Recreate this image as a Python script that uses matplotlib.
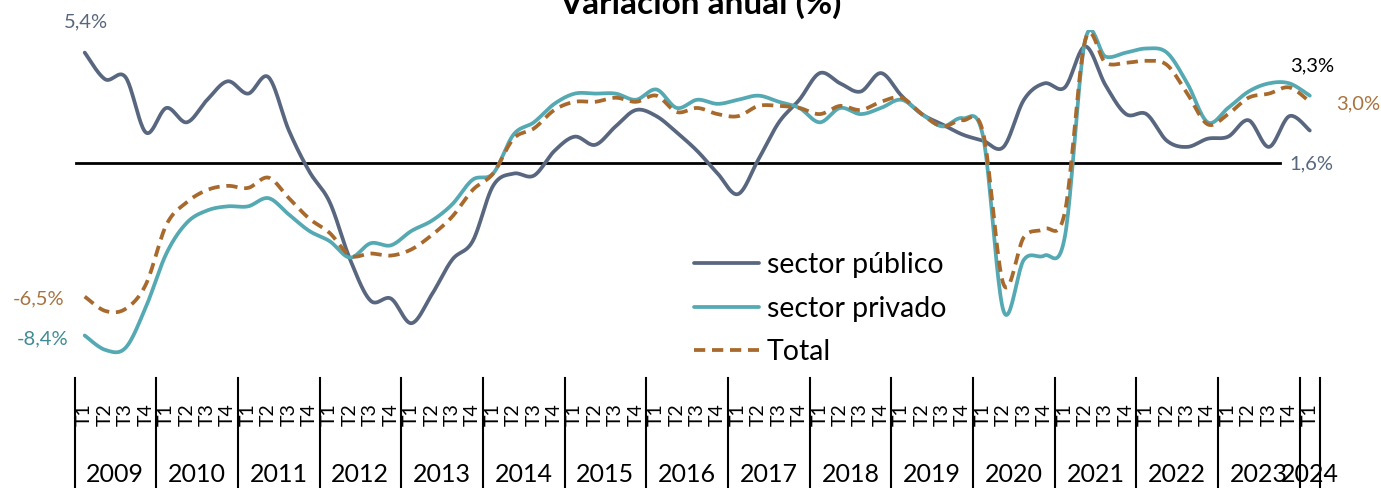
import numpy as np
import matplotlib
matplotlib.use("Agg")
import matplotlib.pyplot as plt
from matplotlib.lines import Line2D
import matplotlib.transforms as mtrans

plt.rcParams['font.family'] = ['Lato', 'DejaVu Sans']

# ---------------- data ----------------
years = [str(y) for y in range(2009, 2025)]
quarters = ["T1", "T2", "T3", "T4"]
quarter_labels = quarters * 15 + ["T1"]

publico = [5.4, 4.1, 4.2, 1.5, 2.7, 2.0, 3.1, 4.0, 3.4, 4.2,
           1.6, -0.4, -1.9, -4.7, -6.7, -6.6, -7.8, -6.4, -4.7, -3.8,
           -1.1, -0.5, -0.6, 0.6, 1.3, 0.9, 1.8, 2.6, 2.3, 1.5,
           0.6, -0.5, -1.5, 0.2, 2.0, 3.1, 4.4, 3.9, 3.5, 4.4,
           3.3, 2.4, 1.9, 1.4, 1.1, 0.8, 3.1, 3.9, 3.7, 5.7,
           3.8, 2.4, 2.4, 1.1, 0.8, 1.2, 1.3, 2.1, 0.8, 2.3,
           1.6]
privado = [-8.4, -9.1, -9.0, -7.0, -4.4, -2.9, -2.3, -2.1, -2.1, -1.7,
           -2.5, -3.3, -3.8, -4.6, -3.9, -4.0, -3.3, -2.8, -2.0, -0.8,
           -0.5, 1.4, 2.0, 2.9, 3.4, 3.4, 3.4, 3.1, 3.6, 2.7,
           3.1, 2.9, 3.1, 3.3, 3.0, 2.7, 2.0, 2.7, 2.4, 2.7,
           3.1, 2.4, 1.8, 2.2, 1.3, -7.2, -4.7, -4.5, -3.6, 6.0,
           5.2, 5.4, 5.6, 5.4, 3.9, 2.0, 2.7, 3.5, 3.9, 3.9,
           3.3]
total = [-6.5, -7.2, -7.1, -5.9, -3.0, -1.9, -1.3, -1.1, -1.2, -0.7,
         -1.7, -2.7, -3.4, -4.5, -4.4, -4.5, -4.2, -3.5, -2.6, -1.3,
         -0.5, 1.2, 1.7, 2.6, 3.0, 3.0, 3.2, 3.0, 3.3, 2.5,
         2.7, 2.4, 2.3, 2.8, 2.8, 2.7, 2.4, 2.8, 2.6, 3.0,
         3.2, 2.4, 1.8, 2.1, 1.5, -5.9, -3.6, -3.2, -2.4, 6.0,
         4.9, 4.9, 5.0, 4.8, 3.4, 1.9, 2.4, 3.2, 3.4, 3.7,
         3.0]
series_names = ["sector público", "sector privado", "Total"]

# ---------------- styles ----------------
C_PUB = "#58677f"
C_PRI = "#55a9b3"
C_TOT = "#a8692c"

W, H = 1381, 488
fig = plt.figure(figsize=(W / 100, H / 100), dpi=100)

x_left, x_right = 74.5, 1320.0
y_top, y_bot = 30.0, 378.0
ax = fig.add_axes([x_left / W, 1 - y_bot / H, (x_right - x_left) / W, (y_bot - y_top) / H])
zero_px = 163.3
ppu = 20.5
ax.set_ylim((zero_px - y_bot) / ppu, (zero_px - y_top) / ppu)
n = len(quarter_labels)
ax.set_xlim(-0.5, n - 0.5)
for s in ax.spines.values():
    s.set_visible(False)
ax.set_xticks([])
ax.set_yticks([])


def smooth(vals, steps=24):
    p = np.column_stack([np.arange(len(vals), dtype=float), np.asarray(vals, float)])
    out = [p[0]]
    t = np.linspace(0, 1, steps + 1)[1:][:, None]
    for i in range(len(p) - 1):
        p0 = p[i - 1] if i > 0 else p[i]
        p3 = p[i + 2] if i + 2 < len(p) else p[i + 1]
        c1 = p[i] + (p[i + 1] - p0) / 6.0
        c2 = p[i + 1] - (p3 - p[i]) / 6.0
        seg = ((1 - t) ** 3) * p[i] + 3 * ((1 - t) ** 2) * t * c1 + 3 * (1 - t) * t ** 2 * c2 + t ** 3 * p[i + 1]
        out.extend(seg)
    out = np.array(out)
    return out[:, 0], out[:, 1]


# zero line
ax.axhline(0, xmin=0.001, xmax=(1280 - x_left) / (x_right - x_left), color="black", lw=2.0, zorder=1)

lw = 2.7
xs, ys = smooth(publico)
ax.plot(xs, ys, color=C_PUB, lw=lw, solid_capstyle="round", label=series_names[0], zorder=3)
xs, ys = smooth(privado)
ax.plot(xs, ys, color=C_PRI, lw=lw, solid_capstyle="round", label=series_names[1], zorder=3)
xs, ys = smooth(total)
ax.plot(xs, ys, color=C_TOT, lw=lw, dashes=(3.0, 1.8), label=series_names[2], zorder=4)

# data labels
def fmt(v):
    return f"{v:.1f}%".replace(".", ",")

lab_fs = 14.5
ax.annotate(fmt(publico[0]), (0, publico[0]), xytext=(1, 31), textcoords="offset pixels",
            ha="center", va="center", color=C_PUB, fontsize=lab_fs)
ax.annotate(fmt(total[0]), (0, total[0]), xytext=(-46, -2), textcoords="offset pixels",
            ha="center", va="center", color="#a8733f", fontsize=lab_fs)
ax.annotate(fmt(privado[0]), (0, privado[0]), xytext=(-42, -3), textcoords="offset pixels",
            ha="center", va="center", color="#3f8b94", fontsize=lab_fs)
ax.annotate(fmt(privado[-1]), (n - 1, privado[-1]), xytext=(2, 30), textcoords="offset pixels",
            ha="center", va="center", color="black", fontsize=lab_fs)
ax.annotate(fmt(total[-1]), (n - 1, total[-1]), xytext=(48, -2), textcoords="offset pixels",
            ha="center", va="center", color="#a8733f", fontsize=lab_fs)
ax.annotate(fmt(publico[-1]), (n - 1, publico[-1]), xytext=(2, -33), textcoords="offset pixels",
            ha="center", va="center", color=C_PUB, fontsize=lab_fs)

# legend
leg = ax.legend(loc="upper left", bbox_to_anchor=(694 / W, 1 - 252 / H), bbox_transform=fig.transFigure,
                frameon=False, fontsize=20.5, handlelength=2.3, handletextpad=0.25, labelspacing=0.62,
                borderpad=0, borderaxespad=0)

# category axis
trans = mtrans.blended_transform_factory(ax.transData, fig.transFigure)
for i, q in enumerate(quarter_labels):
    fig.text(i, 1 - 415 / H, q, transform=trans, rotation=90, ha="center", va="center", fontsize=14)

year_start = list(range(0, n, 4))
for k, yr in enumerate(years):
    s = year_start[k]
    e = min(s + 3, n - 1)
    fig.text((s + e) / 2, 1 - 474 / H, yr, transform=trans, ha="center", va="center", fontsize=18)
bounds = [s - 0.5 for s in year_start] + [n - 0.5]
for b in bounds:
    fig.add_artist(Line2D([b, b], [1 - 378 / H, 0], transform=trans, color="black", lw=1.5))

fig.text(700 / W, 1 - 14 / H, "Variación anual (%)", ha="center", va="baseline", fontsize=24,
         fontweight="bold")

fig.savefig("out.png", dpi=100)
